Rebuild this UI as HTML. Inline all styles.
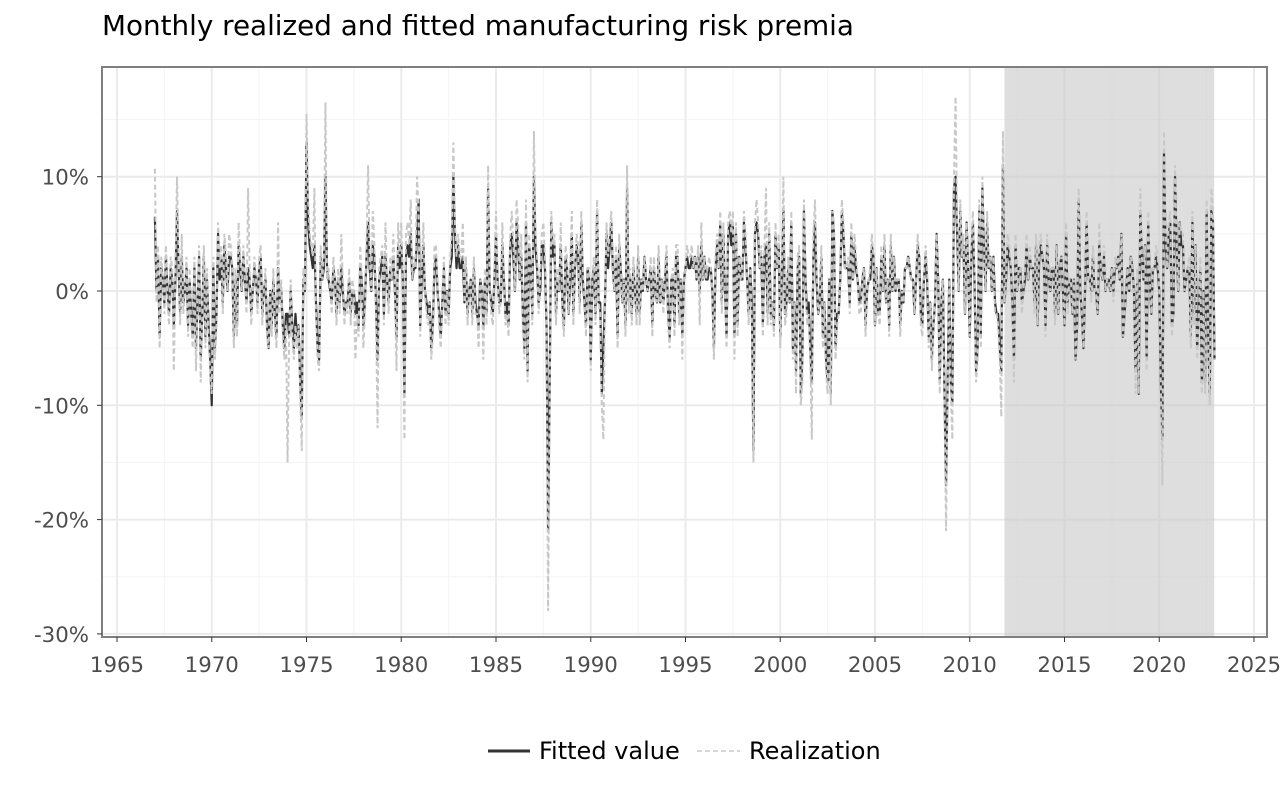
<!DOCTYPE html>
<html><head><meta charset="utf-8"><style>
body{margin:0;background:#fff;font-family:"Liberation Sans","DejaVu Sans",sans-serif;}
svg text{font-family:"DejaVu Sans","Liberation Sans",sans-serif;}
</style></head><body>
<svg id="chart" width="1280" height="800" xmlns="http://www.w3.org/2000/svg">
<text x="102" y="35" font-size="27.8" fill="#000">Monthly realized and fitted manufacturing risk premia</text>
<rect x="102" y="67" width="1165" height="570" fill="#fff"/>
<g id="grid"></g>
<rect id="shade" fill="#c8c8c8" fill-opacity="0.6"/>
<g id="series"></g>
<rect x="102" y="67" width="1165" height="570" fill="none" stroke="#7f7f7f" stroke-width="2"/>
<g id="axes"></g>
<g>
<line x1="488" y1="751" x2="530" y2="751" stroke="#333" stroke-width="3"/>
<text x="539" y="759" font-size="24" fill="#000">Fitted value</text>
<line x1="697" y1="751" x2="740" y2="751" stroke="#c8c8c8" stroke-width="1.5" stroke-dasharray="5,3"/>
<text x="749" y="759" font-size="24" fill="#000">Realization</text>
</g>
</svg>
<script>
const startYear = 1967;
const shadePeriod = [2011.83, 2022.9];
const xTicks = [1965,1970,1975,1980,1985,1990,1995,2000,2005,2010,2015,2020,2025];
const yTicks = [10,0,-10,-20,-30];
const yTickLabels = ["10%","0%","-10%","-20%","-30%"];
const fitted = [
6.5,0,3,-4,2,1,-1,3,0,-2,2,1,
-3,1,7,2,-2,3,-1,0,2,-3,1,-2,
-4,2,-5,-1,3,-6,-2,3,-4,1,-3,-6,
-10,2,-5,-2,5,1,3,-1,4,2,0,3,
3,2,-4,1,-3,4,2,0,3,1,-1,2,
1,-2,0,2,1,-1,2,3,-2,0,1,-3,
-5,0,-3,1,-2,-4,2,-1,0,-3,-5,-2,
-2,-4,0,-3,-5,-2,-4,-3,-8,-11,1,0,
13,6,4,3,2,4,-1,-5,-6,3,1,2,
10,2,1,0,-1,2,1,-2,1,-1,2,0,
-2,-1,-1,1,-2,0,0,-2,-1,-3,2,1,
-3,-1,3,6,2,0,4,3,-1,-6,1,2,
3,-2,3,1,-1,2,1,3,0,-4,4,2,
4,1,-9,3,4,3,5,1,2,2,5,8,
-3,1,4,0,-1,-2,-1,-5,-3,2,3,0,
-2,-4,-1,2,-2,0,-2,2,3,10,5,2,
4,2,2,3,-1,2,-2,0,1,-2,2,-1,
-2,-3,1,0,-3,1,-2,9,0,-1,-2,1,
5,1,-1,-1,4,1,-2,-1,-3,4,5,3,
0,6,4,1,3,-2,-5,6,-7,4,2,-2,
10,4,2,-1,0,4,4,2,-3,-21,-8,6,
3,4,-2,1,0,4,-1,-3,3,2,-2,1,
5,-2,2,4,3,-1,6,1,-1,-3,2,1,
-6,1,2,-2,7,-1,-1,-9,-5,-1,5,2,
4,6,2,0,3,-4,4,2,-1,1,-3,9,
-1,1,-2,2,0,-2,3,-2,1,0,3,1,
0,1,2,-3,2,0,-1,3,-1,1,-1,1,
3,-2,-4,1,1,-3,3,3,-2,1,-4,1,
2,3,2,2,3,2,3,1,3,0,4,1,
3,1,1,2,2,0,-5,2,4,2,6,-1,
5,0,-4,5,6,4,6,-4,5,-3,3,1,
1,6,4,1,-2,2,-1,-14,5,6,5,2,
3,-3,3,4,-2,5,-2,-1,-3,5,2,4,
-4,1,7,-2,-1,2,-1,6,-5,-1,-7,2,
3,-9,-6,7,1,-2,-1,-5,-8,3,6,1,
-2,-1,3,-4,-1,-6,-8,1,-9,7,5,-5,
-2,-2,1,7,5,2,2,2,-1,5,1,4,
2,1,-1,-1,1,2,-3,0,1,1,4,3,
-3,2,-2,-2,3,0,4,-1,1,-3,4,0,
3,0,1,1,-3,0,-1,2,2,3,2,1,
1,-2,1,4,3,-2,-3,1,3,1,-4,-1,
-6,-3,-1,5,1,-8,-1,1,-9,-17,-8,1,
-8,-10,9,10,5,0,7,3,4,-2,6,2,
-4,3,6,1,-7,-5,7,-4,9,4,0,6,
2,3,0,3,-1,-2,-2,-5,-7,11,-1,1,
4,3,2,-1,-6,4,0,2,2,-1,0,1,
4,1,3,2,2,-1,4,-3,3,4,3,2,
-3,4,1,0,2,2,-2,4,-2,2,3,0,
-3,5,-1,1,1,-2,1,-6,-3,8,0,-2,
-5,0,6,1,1,0,3,0,0,-2,4,2,
1,3,0,1,1,0,2,0,2,2,3,1,
5,-4,-2,0,2,0,3,2,0,-7,1,-9,
7,3,1,4,-6,6,1,-2,2,2,3,2,
0,-8,-13,12,4,2,5,6,-3,-2,10,4,
0,6,4,4,0,1,2,2,-4,6,-2,4,
-5,-2,2,-8,0,-8,7,-4,-9,7,6,-6];
const realization = [
10.7,-1,4,-5,3,1,-2,4,-1,-3,3,2,
-7,2,10,3,-3,5,-2,0,3,-4,2,-3,
-5,3,-7,-1,4,-8,-2,4,-5,2,-4,-7,
-9,3,-6,-3,6,2,4,-2,5,3,0,5,
4,2,-5,2,-4,6,3,0,4,1,-2,9,
2,-3,0,3,1,-2,3,4,-3,0,2,-4,
-5,0,-4,2,-3,-5,6,-2,1,-4,-6,-3,
-15,-4,1,-4,-6,-3,-5,-3,-9,-14,2,0,
15.5,8,5,4,3,9,-2,-6,-7,4,1,3,
16.5,1,2,0,-2,3,1,-3,2,-2,5,1,
-3,-1,-2,2,-3,1,0,-6,-2,-4,4,1,
-5,-2,4,11,3,0,7,4,-2,-12,2,3,
4,-3,6,1,-2,3,1,5,0,-7,6,3,
6,1,-13,5,6,4,8,1,3,2,10,7,
-4,2,6,0,-2,-3,-1,-6,-4,4,4,0,
-3,-5,-1,3,-3,0,-3,3,5,13,6,3,
5,3,3,6,-1,3,-3,0,1,-3,3,-2,
-2,-5,1,0,-6,2,-3,11,0,-2,-3,2,
7,1,-2,-1,6,1,-3,-2,-4,5,7,4,
0,8,6,1,5,-3,-6,8,-8,5,2,-3,
14,5,3,-2,1,5,6,3,-3,-28,-10,7,
4,5,-3,2,0,6,-2,-4,4,3,-2,2,
7,-3,2,5,4,-2,7,2,-1,-4,2,2,
-7,1,3,-3,8,-1,-2,-10,-13,-1,6,3,
5,7,2,0,4,-5,5,2,-1,1,-4,11,
-2,2,-3,3,0,-3,4,-3,1,0,3,1,
0,1,3,-4,3,0,-1,4,-1,1,-2,2,
4,-3,-5,1,2,-4,4,4,-3,1,-6,1,
2,4,3,3,4,2,3,1,4,-3,6,1,
3,1,2,3,2,0,-6,3,5,2,7,-2,
6,0,-5,6,7,5,7,-6,6,-4,3,1,
1,7,5,1,-3,2,-2,-15,6,8,6,2,
4,-4,4,9,-3,6,-3,-1,-4,6,2,5,
-5,2,10,-3,-2,3,-1,7,-6,-1,-9,3,
4,-10,-8,8,1,-3,-2,-6,-13,5,8,2,
-2,-1,4,-5,-1,-7,-9,1,-10,7,6,-6,
-3,-2,1,8,6,2,2,3,-2,6,1,5,
3,1,-2,-2,1,2,-4,0,1,2,5,3,
-3,2,-2,-3,4,0,5,-1,1,-4,5,0,
3,0,1,1,-4,0,-1,2,2,3,2,1,
1,-2,1,5,3,-3,-4,1,4,2,-5,-1,
-7,-3,-1,5,1,-9,-1,1,-10,-21,-9,1,
-9,-13,10,17,6,0,8,3,5,-2,6,2,
-4,4,7,2,-8,-6,8,-5,10,4,0,7,
2,3,0,3,-2,-2,-3,-6,-11,14,-1,1,
5,4,2,-1,-8,5,0,2,2,-2,0,2,
5,1,4,2,2,-2,5,-3,4,5,3,2,
-4,5,1,0,2,2,-3,4,-2,2,3,0,
-3,6,-2,1,1,-2,1,-6,-3,9,0,-2,
-5,0,7,1,1,-1,4,0,0,-2,6,2,
1,4,0,1,1,0,2,-1,3,2,3,1,
5,-4,-2,0,2,0,3,2,0,-9,2,-9,
9,3,1,4,-7,7,1,-2,2,2,4,3,
0,-8,-17,14,5,2,6,7,-4,-2,11,4,
0,6,5,5,0,1,2,3,-5,7,-3,4,
-6,-3,3,-9,0,-9,8,-4,-10,9,7,-6];

const NS = "http://www.w3.org/2000/svg";
const X0=102, X1=1267, Y0=67, Y1=637;
function xs(year){ return 117 + (year-1965)*(1137/60); }
function ys(v){ return 291 - v*11.43; }
function mk(tag, attrs, parent){ const e=document.createElementNS(NS,tag); for(const k in attrs) e.setAttribute(k, attrs[k]); parent.appendChild(e); return e; }

const grid=document.getElementById('grid');
for(let i=0;i<xTicks.length-1;i++){
  const l=mk('line',{x1:xs(xTicks[i]+2.5),x2:xs(xTicks[i]+2.5),y1:Y0,y2:Y1,stroke:'#f4f4f4','stroke-width':1},grid);
  
  
}
for(let v=15; v>=-25; v-=10){
  const l=mk('line',{x1:X0,x2:X1,y1:ys(v),y2:ys(v),stroke:'#f4f4f4','stroke-width':1},grid);
  
  
}
xTicks.forEach(t=>{
  const l=mk('line',{x1:xs(t),x2:xs(t),y1:Y0,y2:Y1,stroke:'#ebebeb','stroke-width':2},grid);
  
  
});
yTicks.forEach(t=>{
  const l=mk('line',{x1:X0,x2:X1,y1:ys(t),y2:ys(t),stroke:'#ebebeb','stroke-width':2},grid);
  
  
});

const sh=document.getElementById('shade');
sh.setAttribute('x', xs(shadePeriod[0]));
sh.setAttribute('width', xs(shadePeriod[1])-xs(shadePeriod[0]));
sh.setAttribute('y', Y0); sh.setAttribute('height', Y1-Y0);

function pathFor(arr){ return arr.map((v,i)=>(i?'L':'M')+xs(startYear+i/12).toFixed(2)+','+ys(v).toFixed(2)).join(''); }
const series=document.getElementById('series');
const pf=mk('path',{d:pathFor(fitted),fill:'none',stroke:'#333','stroke-width':2.2,'stroke-linejoin':'round'},series);


const pr=mk('path',{d:pathFor(realization),fill:'none',stroke:'#c8c8c8','stroke-width':2,'stroke-dasharray':'5,3'},series);



const axes=document.getElementById('axes');
xTicks.forEach(t=>{
  const tk=mk('line',{x1:xs(t),x2:xs(t),y1:Y1,y2:Y1+5,stroke:'#333','stroke-width':1},axes);
  
  
  const tx=mk('text',{x:xs(t),y:Y1+35,'font-size':21.3,fill:'#4d4d4d','text-anchor':'middle'},axes);
  tx.textContent=t;
  
  
});
yTicks.forEach((t,i)=>{
  const tk=mk('line',{x1:X0-5,x2:X0,y1:ys(t),y2:ys(t),stroke:'#333','stroke-width':1},axes);
  
  
  const tx=mk('text',{x:X0-13,y:ys(t)+8,'font-size':21.3,fill:'#4d4d4d','text-anchor':'end'},axes);
  tx.textContent=yTickLabels[i];
  
  
});
</script>
</body></html>
